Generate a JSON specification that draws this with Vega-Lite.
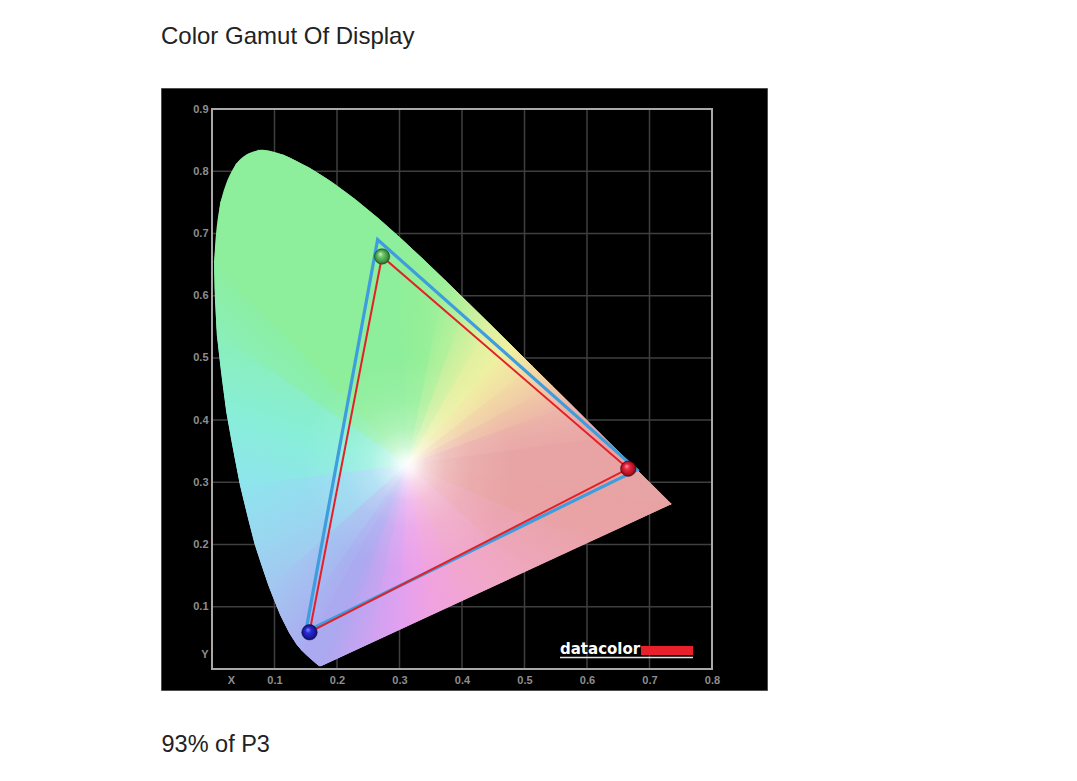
{
  "$schema": "https://vega.github.io/schema/vega-lite/v6.json",
  "width": 606,
  "height": 602,
  "autosize": {"type": "none"},
  "padding": {"left": 161, "top": 88, "right": 310, "bottom": 91},
  "background": "#ffffff",
  "title": {
    "text": "Color Gamut Of Display",
    "anchor": "start",
    "frame": "group",
    "offset": 20,
    "baseline": "alphabetic",
    "font": "Liberation Sans",
    "fontSize": 24,
    "fontWeight": "normal",
    "color": "#222222"
  },
  "config": {"view": {"fill": "#000000", "stroke": "#4d4d4d", "strokeWidth": 1}},
  "datasets": {
    "locus": [
      {"nm": 380, "x": 0.17411, "y": 0.00496},
      {"nm": 400, "x": 0.17334, "y": 0.0048},
      {"nm": 420, "x": 0.17141, "y": 0.0051},
      {"nm": 430, "x": 0.16888, "y": 0.0069},
      {"nm": 440, "x": 0.16441, "y": 0.01086},
      {"nm": 450, "x": 0.15664, "y": 0.01771},
      {"nm": 455, "x": 0.15099, "y": 0.02274},
      {"nm": 460, "x": 0.14396, "y": 0.0297},
      {"nm": 465, "x": 0.1355, "y": 0.03988},
      {"nm": 470, "x": 0.12412, "y": 0.0578},
      {"nm": 475, "x": 0.10959, "y": 0.08684},
      {"nm": 480, "x": 0.09129, "y": 0.1327},
      {"nm": 485, "x": 0.06871, "y": 0.20072},
      {"nm": 490, "x": 0.04539, "y": 0.29498},
      {"nm": 495, "x": 0.02346, "y": 0.4127},
      {"nm": 500, "x": 0.00817, "y": 0.53842},
      {"nm": 505, "x": 0.00386, "y": 0.65482},
      {"nm": 510, "x": 0.01387, "y": 0.75019},
      {"nm": 515, "x": 0.03885, "y": 0.81202},
      {"nm": 520, "x": 0.0743, "y": 0.8338},
      {"nm": 525, "x": 0.11416, "y": 0.82621},
      {"nm": 530, "x": 0.15472, "y": 0.80586},
      {"nm": 535, "x": 0.19288, "y": 0.78163},
      {"nm": 540, "x": 0.22962, "y": 0.75433},
      {"nm": 545, "x": 0.26578, "y": 0.72432},
      {"nm": 550, "x": 0.3016, "y": 0.69231},
      {"nm": 555, "x": 0.33736, "y": 0.65885},
      {"nm": 560, "x": 0.3731, "y": 0.62445},
      {"nm": 565, "x": 0.40874, "y": 0.58961},
      {"nm": 570, "x": 0.44406, "y": 0.55471},
      {"nm": 575, "x": 0.47877, "y": 0.5202},
      {"nm": 580, "x": 0.51249, "y": 0.48659},
      {"nm": 585, "x": 0.54479, "y": 0.45443},
      {"nm": 590, "x": 0.57515, "y": 0.42423},
      {"nm": 595, "x": 0.60293, "y": 0.3965},
      {"nm": 600, "x": 0.62704, "y": 0.37249},
      {"nm": 605, "x": 0.64823, "y": 0.35139},
      {"nm": 610, "x": 0.66576, "y": 0.33401},
      {"nm": 615, "x": 0.68008, "y": 0.31975},
      {"nm": 620, "x": 0.6915, "y": 0.30834},
      {"nm": 625, "x": 0.70061, "y": 0.2993},
      {"nm": 630, "x": 0.70792, "y": 0.29203},
      {"nm": 640, "x": 0.71903, "y": 0.28093},
      {"nm": 650, "x": 0.72599, "y": 0.27401},
      {"nm": 660, "x": 0.73007, "y": 0.26994},
      {"nm": 680, "x": 0.73439, "y": 0.26561},
      {"nm": 700, "x": 0.73469, "y": 0.26531}
    ],
    "fan": [
      {"w": 1, "k": 0, "x": 0.3127, "y": 0.329, "c": "#abaaf0"},
      {"w": 1, "k": 1, "x": 0.17411, "y": 0.00496, "c": "#abaaf0"},
      {"w": 1, "k": 2, "x": 0.17141, "y": 0.0051, "c": "#abaaf0"},
      {"w": 1, "k": 3, "x": 0.16441, "y": 0.01086, "c": "#abaaf0"},
      {"w": 1, "k": 4, "x": 0.15664, "y": 0.01771, "c": "#abaaf0"},
      {"w": 1, "k": 5, "x": 0.15099, "y": 0.02274, "c": "#abaaf0"},
      {"w": 1, "k": 6, "x": 0.14396, "y": 0.0297, "c": "#abaaf0"},
      {"w": 2, "k": 0, "x": 0.3127, "y": 0.329, "c": "#a9b0f0"},
      {"w": 2, "k": 1, "x": 0.14396, "y": 0.0297, "c": "#a9b0f0"},
      {"w": 2, "k": 2, "x": 0.1355, "y": 0.03988, "c": "#a9b0f0"},
      {"w": 2, "k": 3, "x": 0.12412, "y": 0.0578, "c": "#a9b0f0"},
      {"w": 3, "k": 0, "x": 0.3127, "y": 0.329, "c": "#a6bcf0"},
      {"w": 3, "k": 1, "x": 0.12412, "y": 0.0578, "c": "#a6bcf0"},
      {"w": 3, "k": 2, "x": 0.10959, "y": 0.08684, "c": "#a6bcf0"},
      {"w": 3, "k": 3, "x": 0.09129, "y": 0.1327, "c": "#a6bcf0"},
      {"w": 4, "k": 0, "x": 0.3127, "y": 0.329, "c": "#9ad6f0"},
      {"w": 4, "k": 1, "x": 0.09129, "y": 0.1327, "c": "#9ad6f0"},
      {"w": 4, "k": 2, "x": 0.06871, "y": 0.20072, "c": "#9ad6f0"},
      {"w": 4, "k": 3, "x": 0.04539, "y": 0.29498, "c": "#9ad6f0"},
      {"w": 5, "k": 0, "x": 0.3127, "y": 0.329, "c": "#88eed8"},
      {"w": 5, "k": 1, "x": 0.04539, "y": 0.29498, "c": "#88eed8"},
      {"w": 5, "k": 2, "x": 0.02346, "y": 0.4127, "c": "#88eed8"},
      {"w": 5, "k": 3, "x": 0.00817, "y": 0.53842, "c": "#88eed8"},
      {"w": 6, "k": 0, "x": 0.3127, "y": 0.329, "c": "#8befab"},
      {"w": 6, "k": 1, "x": 0.00817, "y": 0.53842, "c": "#8befab"},
      {"w": 6, "k": 2, "x": 0.00386, "y": 0.65482, "c": "#8befab"},
      {"w": 7, "k": 0, "x": 0.3127, "y": 0.329, "c": "#8dee9b"},
      {"w": 7, "k": 1, "x": 0.00386, "y": 0.65482, "c": "#8dee9b"},
      {"w": 7, "k": 2, "x": 0.01387, "y": 0.75019, "c": "#8dee9b"},
      {"w": 7, "k": 3, "x": 0.03885, "y": 0.81202, "c": "#8dee9b"},
      {"w": 7, "k": 4, "x": 0.0743, "y": 0.8338, "c": "#8dee9b"},
      {"w": 7, "k": 5, "x": 0.11416, "y": 0.82621, "c": "#8dee9b"},
      {"w": 7, "k": 6, "x": 0.15472, "y": 0.80586, "c": "#8dee9b"},
      {"w": 7, "k": 7, "x": 0.19288, "y": 0.78163, "c": "#8dee9b"},
      {"w": 7, "k": 8, "x": 0.22962, "y": 0.75433, "c": "#8dee9b"},
      {"w": 7, "k": 9, "x": 0.26578, "y": 0.72432, "c": "#8dee9b"},
      {"w": 7, "k": 10, "x": 0.3016, "y": 0.69231, "c": "#8dee9b"},
      {"w": 8, "k": 0, "x": 0.3127, "y": 0.329, "c": "#93ef98"},
      {"w": 8, "k": 1, "x": 0.3016, "y": 0.69231, "c": "#93ef98"},
      {"w": 8, "k": 2, "x": 0.33736, "y": 0.65885, "c": "#93ef98"},
      {"w": 8, "k": 3, "x": 0.3731, "y": 0.62445, "c": "#93ef98"},
      {"w": 20, "k": 0, "x": 0.3127, "y": 0.329, "c": "#aef09b"},
      {"w": 20, "k": 1, "x": 0.3731, "y": 0.62445, "c": "#aef09b"},
      {"w": 20, "k": 2, "x": 0.40874, "y": 0.58961, "c": "#aef09b"},
      {"w": 21, "k": 0, "x": 0.3127, "y": 0.329, "c": "#cdf19e"},
      {"w": 21, "k": 1, "x": 0.40874, "y": 0.58961, "c": "#cdf19e"},
      {"w": 21, "k": 2, "x": 0.44406, "y": 0.55471, "c": "#cdf19e"},
      {"w": 22, "k": 0, "x": 0.3127, "y": 0.329, "c": "#e7f1a1"},
      {"w": 22, "k": 1, "x": 0.44406, "y": 0.55471, "c": "#e7f1a1"},
      {"w": 22, "k": 2, "x": 0.47877, "y": 0.5202, "c": "#e7f1a1"},
      {"w": 23, "k": 0, "x": 0.3127, "y": 0.329, "c": "#f1e6a3"},
      {"w": 23, "k": 1, "x": 0.47877, "y": 0.5202, "c": "#f1e6a3"},
      {"w": 23, "k": 2, "x": 0.51249, "y": 0.48659, "c": "#f1e6a3"},
      {"w": 24, "k": 0, "x": 0.3127, "y": 0.329, "c": "#f1d2a5"},
      {"w": 24, "k": 1, "x": 0.51249, "y": 0.48659, "c": "#f1d2a5"},
      {"w": 24, "k": 2, "x": 0.54479, "y": 0.45443, "c": "#f1d2a5"},
      {"w": 25, "k": 0, "x": 0.3127, "y": 0.329, "c": "#eebfa7"},
      {"w": 25, "k": 1, "x": 0.54479, "y": 0.45443, "c": "#eebfa7"},
      {"w": 25, "k": 2, "x": 0.57515, "y": 0.42423, "c": "#eebfa7"},
      {"w": 12, "k": 0, "x": 0.3127, "y": 0.329, "c": "#eaaca8"},
      {"w": 12, "k": 1, "x": 0.57515, "y": 0.42423, "c": "#eaaca8"},
      {"w": 12, "k": 2, "x": 0.60293, "y": 0.3965, "c": "#eaaca8"},
      {"w": 12, "k": 3, "x": 0.62704, "y": 0.37249, "c": "#eaaca8"},
      {"w": 13, "k": 0, "x": 0.3127, "y": 0.329, "c": "#e8a4a4"},
      {"w": 13, "k": 1, "x": 0.62704, "y": 0.37249, "c": "#e8a4a4"},
      {"w": 13, "k": 2, "x": 0.64823, "y": 0.35139, "c": "#e8a4a4"},
      {"w": 13, "k": 3, "x": 0.66576, "y": 0.33401, "c": "#e8a4a4"},
      {"w": 13, "k": 4, "x": 0.68008, "y": 0.31975, "c": "#e8a4a4"},
      {"w": 13, "k": 5, "x": 0.6915, "y": 0.30834, "c": "#e8a4a4"},
      {"w": 13, "k": 6, "x": 0.70061, "y": 0.2993, "c": "#e8a4a4"},
      {"w": 13, "k": 7, "x": 0.70792, "y": 0.29203, "c": "#e8a4a4"},
      {"w": 13, "k": 8, "x": 0.71903, "y": 0.28093, "c": "#e8a4a4"},
      {"w": 13, "k": 9, "x": 0.72599, "y": 0.27401, "c": "#e8a4a4"},
      {"w": 13, "k": 10, "x": 0.73007, "y": 0.26994, "c": "#e8a4a4"},
      {"w": 13, "k": 11, "x": 0.73439, "y": 0.26561, "c": "#e8a4a4"},
      {"w": 13, "k": 12, "x": 0.73469, "y": 0.26531, "c": "#e8a4a4"},
      {"w": 14, "k": 0, "x": 0.3127, "y": 0.329, "c": "#e9a3a5"},
      {"w": 14, "k": 1, "x": 0.73469, "y": 0.26531, "c": "#e9a3a5"},
      {"w": 14, "k": 2, "x": 0.65, "y": 0.22598, "c": "#e9a3a5"},
      {"w": 14, "k": 3, "x": 0.6, "y": 0.20276, "c": "#e9a3a5"},
      {"w": 15, "k": 0, "x": 0.3127, "y": 0.329, "c": "#eca5b3"},
      {"w": 15, "k": 1, "x": 0.6, "y": 0.20276, "c": "#eca5b3"},
      {"w": 15, "k": 2, "x": 0.55, "y": 0.17953, "c": "#eca5b3"},
      {"w": 15, "k": 3, "x": 0.5, "y": 0.15631, "c": "#eca5b3"},
      {"w": 16, "k": 0, "x": 0.3127, "y": 0.329, "c": "#f0a8c8"},
      {"w": 16, "k": 1, "x": 0.5, "y": 0.15631, "c": "#f0a8c8"},
      {"w": 16, "k": 2, "x": 0.45, "y": 0.13309, "c": "#f0a8c8"},
      {"w": 16, "k": 3, "x": 0.4, "y": 0.10987, "c": "#f0a8c8"},
      {"w": 26, "k": 0, "x": 0.3127, "y": 0.329, "c": "#f0a4db"},
      {"w": 26, "k": 1, "x": 0.4, "y": 0.10987, "c": "#f0a4db"},
      {"w": 26, "k": 2, "x": 0.35, "y": 0.08665, "c": "#f0a4db"},
      {"w": 27, "k": 0, "x": 0.3127, "y": 0.329, "c": "#e9a1e9"},
      {"w": 27, "k": 1, "x": 0.35, "y": 0.08665, "c": "#e9a1e9"},
      {"w": 27, "k": 2, "x": 0.3, "y": 0.06343, "c": "#e9a1e9"},
      {"w": 28, "k": 0, "x": 0.3127, "y": 0.329, "c": "#d7a2f0"},
      {"w": 28, "k": 1, "x": 0.3, "y": 0.06343, "c": "#d7a2f0"},
      {"w": 28, "k": 2, "x": 0.25, "y": 0.04021, "c": "#d7a2f0"},
      {"w": 29, "k": 0, "x": 0.3127, "y": 0.329, "c": "#c1a5f0"},
      {"w": 29, "k": 1, "x": 0.25, "y": 0.04021, "c": "#c1a5f0"},
      {"w": 29, "k": 2, "x": 0.2, "y": 0.01698, "c": "#c1a5f0"},
      {"w": 19, "k": 0, "x": 0.3127, "y": 0.329, "c": "#b1a7f0"},
      {"w": 19, "k": 1, "x": 0.2, "y": 0.01698, "c": "#b1a7f0"},
      {"w": 19, "k": 2, "x": 0.17411, "y": 0.00496, "c": "#b1a7f0"}
    ],
    "white": [{"x": 0.3127, "y": 0.329}],
    "gridV": [{"v": 0.1}, {"v": 0.2}, {"v": 0.3}, {"v": 0.4}, {"v": 0.5}, {"v": 0.6}, {"v": 0.7}],
    "gridH": [{"v": 0.1}, {"v": 0.2}, {"v": 0.3}, {"v": 0.4}, {"v": 0.5}, {"v": 0.6}, {"v": 0.7}, {"v": 0.8}],
    "gamut": [
      {"g": "P3", "k": 0, "x": 0.68, "y": 0.32},
      {"g": "P3", "k": 1, "x": 0.265, "y": 0.69},
      {"g": "P3", "k": 2, "x": 0.15, "y": 0.06},
      {"g": "Display", "k": 0, "x": 0.666, "y": 0.322},
      {"g": "Display", "k": 1, "x": 0.272, "y": 0.663},
      {"g": "Display", "k": 2, "x": 0.156, "y": 0.059}
    ]
  },
  "layer": [
    {
      "data": {"name": "gridV"},
      "mark": {"type": "rule", "color": "#3f3f3f", "strokeWidth": 1.5},
      "encoding": {
        "x": {"field": "v", "type": "quantitative"},
        "y": {"datum": 0, "type": "quantitative"},
        "y2": {"datum": 0.9}
      }
    },
    {
      "data": {"name": "gridH"},
      "mark": {"type": "rule", "color": "#3f3f3f", "strokeWidth": 1.5},
      "encoding": {
        "y": {"field": "v", "type": "quantitative"},
        "x": {"datum": 0, "type": "quantitative"},
        "x2": {"datum": 0.8}
      }
    },
    {
      "data": {"values": [{}]},
      "mark": {"type": "rect", "fillOpacity": 0, "stroke": "#a9a9a9", "strokeWidth": 2},
      "encoding": {
        "x": {"datum": 0, "type": "quantitative"},
        "x2": {"datum": 0.8},
        "y": {"datum": 0, "type": "quantitative"},
        "y2": {"datum": 0.9}
      }
    },
    {
      "data": {"name": "locus"},
      "mark": {
        "type": "line",
        "interpolate": "cardinal",
        "strokeWidth": 0,
        "fill": {
          "gradient": "linear", "x1": 0, "y1": 0, "x2": 0, "y2": 1,
          "stops": [
            {"offset": 0, "color": "#8cee96"},
            {"offset": 0.28, "color": "#8def9c"},
            {"offset": 0.4, "color": "#8cefb2"},
            {"offset": 0.5, "color": "#88f0cc"},
            {"offset": 0.6, "color": "#86f0e6"},
            {"offset": 0.67, "color": "#92e2f0"},
            {"offset": 0.74, "color": "#9ed0f0"},
            {"offset": 0.825, "color": "#a8bcf0"},
            {"offset": 0.91, "color": "#abaef0"},
            {"offset": 1, "color": "#aea8f0"}
          ]
        }
      },
      "encoding": {
        "order": {"field": "nm", "type": "quantitative"},
        "x": {
          "field": "x", "type": "quantitative",
          "scale": {"domain": [-0.0816, 0.888], "nice": false, "zero": false},
          "axis": {
            "orient": "bottom", "offset": -21,
            "values": [0.0304, 0.1, 0.2, 0.3, 0.4, 0.5, 0.6, 0.7, 0.8],
            "labelExpr": "datum.value < 0.05 ? 'X' : format(datum.value, '.1f')",
            "domain": false, "ticks": false, "grid": false,
            "labelColor": "#8e8e8e", "labelFont": "Liberation Sans", "labelFontSize": 11,
            "labelFontWeight": "bold", "labelPadding": 5,
            "labelOverlap": false, "labelBound": false, "labelFlush": false,
            "title": "93% of P3", "titleFont": "Liberation Sans", "titleFontSize": 23.5,
            "titleFontWeight": "normal", "titleColor": "#222222",
            "titleX": 0, "titleY": 82, "titleAlign": "left", "titleBaseline": "alphabetic", "titleAnchor": null
          }
        },
        "y": {
          "field": "y", "type": "quantitative",
          "scale": {"domain": [-0.0338, 0.9338], "nice": false, "zero": false},
          "axis": {
            "orient": "left", "offset": -51,
            "values": [0.0225, 0.1, 0.2, 0.3, 0.4, 0.5, 0.6, 0.7, 0.8, 0.9],
            "labelExpr": "datum.value < 0.05 ? 'Y' : format(datum.value, '.1f')",
            "domain": false, "ticks": false, "grid": false,
            "labelColor": "#8e8e8e", "labelFont": "Liberation Sans", "labelFontSize": 11,
            "labelFontWeight": "bold", "labelPadding": 4,
            "labelOverlap": false, "labelBound": false, "labelFlush": false,
            "title": null
          }
        }
      }
    },
    {
      "data": {"name": "fan"},
      "mark": {"type": "line", "interpolate": "linear-closed", "strokeWidth": 0.8, "strokeJoin": "round"},
      "encoding": {
        "detail": {"field": "w", "type": "nominal"},
        "order": {"field": "k", "type": "quantitative"},
        "fill": {"field": "c", "type": "nominal", "scale": null},
        "stroke": {"field": "c", "type": "nominal", "scale": null},
        "x": {"field": "x", "type": "quantitative"},
        "y": {"field": "y", "type": "quantitative"}
      }
    },
    {
      "data": {"name": "fan"}, "transform": [{"filter": "datum.w === 2"}],
      "mark": {"type": "line", "interpolate": "linear-closed", "strokeWidth": 0,
        "fill": {"gradient": "linear", "x1": 0.5529, "y1": 0.54963, "x2": 0.45304, "y2": 0.45036,
          "stops": [{"offset": 0, "color": "#aaacf0"}, {"offset": 0.396, "color": "#a9b0f0"}, {"offset": 1, "color": "#a8b4f0"}]}},
      "encoding": {"order": {"field": "k", "type": "quantitative"}, "x": {"field": "x", "type": "quantitative"}, "y": {"field": "y", "type": "quantitative"}}
    },
    {
      "data": {"name": "fan"}, "transform": [{"filter": "datum.w === 3"}],
      "mark": {"type": "line", "interpolate": "linear-closed", "strokeWidth": 0,
        "fill": {"gradient": "linear", "x1": 0.56757, "y1": 0.60967, "x2": 0.36099, "y2": 0.38777,
          "stops": [{"offset": 0, "color": "#a8b4f0"}, {"offset": 0.406, "color": "#a6bcf0"}, {"offset": 1, "color": "#a2c8f0"}]}},
      "encoding": {"order": {"field": "k", "type": "quantitative"}, "x": {"field": "x", "type": "quantitative"}, "y": {"field": "y", "type": "quantitative"}}
    },
    {
      "data": {"name": "fan"}, "transform": [{"filter": "datum.w === 4"}],
      "mark": {"type": "line", "interpolate": "linear-closed", "strokeWidth": 0,
        "fill": {"gradient": "linear", "x1": 0.50464, "y1": 0.78634, "x2": 0.07878, "y2": 0.12275,
          "stops": [{"offset": 0, "color": "#a2c8f0"}, {"offset": 0.428, "color": "#9ad6f0"}, {"offset": 1, "color": "#8fe4ee"}]}},
      "encoding": {"order": {"field": "k", "type": "quantitative"}, "x": {"field": "x", "type": "quantitative"}, "y": {"field": "y", "type": "quantitative"}}
    },
    {
      "data": {"name": "fan"}, "transform": [{"filter": "datum.w === 5"}],
      "mark": {"type": "line", "interpolate": "linear-closed", "strokeWidth": 0,
        "fill": {"gradient": "linear", "x1": -0.31877, "y1": 0.83079, "x2": 0, "y2": 0,
          "stops": [{"offset": 0, "color": "#8fe4ee"}, {"offset": 0.478, "color": "#88eed8"}, {"offset": 1, "color": "#8aefb8"}]}},
      "encoding": {"order": {"field": "k", "type": "quantitative"}, "x": {"field": "x", "type": "quantitative"}, "y": {"field": "y", "type": "quantitative"}}
    },
    {
      "data": {"name": "fan"}, "transform": [{"filter": "datum.w === 6"}],
      "mark": {"type": "line", "interpolate": "linear-closed", "strokeWidth": 0,
        "fill": {"gradient": "linear", "x1": -0.16979, "y1": 0.20527, "x2": 0, "y2": 0,
          "stops": [{"offset": 0, "color": "#8aefb8"}, {"offset": 1, "color": "#8cee9e"}]}},
      "encoding": {"order": {"field": "k", "type": "quantitative"}, "x": {"field": "x", "type": "quantitative"}, "y": {"field": "y", "type": "quantitative"}}
    },
    {
      "data": {"name": "fan"}, "transform": [{"filter": "datum.w === 8"}],
      "mark": {"type": "line", "interpolate": "linear-closed", "strokeWidth": 0,
        "fill": {"gradient": "linear", "x1": 0, "y1": 0, "x2": 0.93572, "y2": 0.35583,
          "stops": [{"offset": 0, "color": "#8eee98"}, {"offset": 0.5, "color": "#93ef98"}, {"offset": 1, "color": "#9ff09a"}]}},
      "encoding": {"order": {"field": "k", "type": "quantitative"}, "x": {"field": "x", "type": "quantitative"}, "y": {"field": "y", "type": "quantitative"}}
    },
    {
      "data": {"name": "fan"}, "transform": [{"filter": "datum.w === 20"}],
      "mark": {"type": "line", "interpolate": "linear-closed", "strokeWidth": 0,
        "fill": {"gradient": "linear", "x1": 0.35958, "y1": 0.31121, "x2": 0.6301, "y2": 0.54534,
          "stops": [{"offset": 0, "color": "#9ff09a"}, {"offset": 1, "color": "#bcf09c"}]}},
      "encoding": {"order": {"field": "k", "type": "quantitative"}, "x": {"field": "x", "type": "quantitative"}, "y": {"field": "y", "type": "quantitative"}}
    },
    {
      "data": {"name": "fan"}, "transform": [{"filter": "datum.w === 21"}],
      "mark": {"type": "line", "interpolate": "linear-closed", "strokeWidth": 0,
        "fill": {"gradient": "linear", "x1": 0.39295, "y1": 0.36453, "x2": 0.60424, "y2": 0.56054,
          "stops": [{"offset": 0, "color": "#bcf09c"}, {"offset": 1, "color": "#def1a0"}]}},
      "encoding": {"order": {"field": "k", "type": "quantitative"}, "x": {"field": "x", "type": "quantitative"}, "y": {"field": "y", "type": "quantitative"}}
    },
    {
      "data": {"name": "fan"}, "transform": [{"filter": "datum.w === 22"}],
      "mark": {"type": "line", "interpolate": "linear-closed", "strokeWidth": 0,
        "fill": {"gradient": "linear", "x1": 0.40768, "y1": 0.39531, "x2": 0.59182, "y2": 0.57386,
          "stops": [{"offset": 0, "color": "#def1a0"}, {"offset": 1, "color": "#f0f0a2"}]}},
      "encoding": {"order": {"field": "k", "type": "quantitative"}, "x": {"field": "x", "type": "quantitative"}, "y": {"field": "y", "type": "quantitative"}}
    },
    {
      "data": {"name": "fan"}, "transform": [{"filter": "datum.w === 23"}],
      "mark": {"type": "line", "interpolate": "linear-closed", "strokeWidth": 0,
        "fill": {"gradient": "linear", "x1": 0.41402, "y1": 0.41561, "x2": 0.58598, "y2": 0.58823,
          "stops": [{"offset": 0, "color": "#f0f0a2"}, {"offset": 1, "color": "#f2dca4"}]}},
      "encoding": {"order": {"field": "k", "type": "quantitative"}, "x": {"field": "x", "type": "quantitative"}, "y": {"field": "y", "type": "quantitative"}}
    },
    {
      "data": {"name": "fan"}, "transform": [{"filter": "datum.w === 24"}],
      "mark": {"type": "line", "interpolate": "linear-closed", "strokeWidth": 0,
        "fill": {"gradient": "linear", "x1": 0.41515, "y1": 0.43016, "x2": 0.58424, "y2": 0.60536,
          "stops": [{"offset": 0, "color": "#f2dca4"}, {"offset": 1, "color": "#f0c8a6"}]}},
      "encoding": {"order": {"field": "k", "type": "quantitative"}, "x": {"field": "x", "type": "quantitative"}, "y": {"field": "y", "type": "quantitative"}}
    },
    {
      "data": {"name": "fan"}, "transform": [{"filter": "datum.w === 25"}],
      "mark": {"type": "line", "interpolate": "linear-closed", "strokeWidth": 0,
        "fill": {"gradient": "linear", "x1": 0.41183, "y1": 0.44111, "x2": 0.5858, "y2": 0.62745,
          "stops": [{"offset": 0, "color": "#f0c8a6"}, {"offset": 1, "color": "#edb6a8"}]}},
      "encoding": {"order": {"field": "k", "type": "quantitative"}, "x": {"field": "x", "type": "quantitative"}, "y": {"field": "y", "type": "quantitative"}}
    },
    {
      "data": {"name": "fan"}, "transform": [{"filter": "datum.w === 12"}],
      "mark": {"type": "line", "interpolate": "linear-closed", "strokeWidth": 0,
        "fill": {"gradient": "linear", "x1": 0.32277, "y1": 0.40658, "x2": 0.65117, "y2": 0.82025,
          "stops": [{"offset": 0, "color": "#edb6a8"}, {"offset": 0.536, "color": "#eaaca8"}, {"offset": 1, "color": "#e9a6a6"}]}},
      "encoding": {"order": {"field": "k", "type": "quantitative"}, "x": {"field": "x", "type": "quantitative"}, "y": {"field": "y", "type": "quantitative"}}
    },
    {
      "data": {"name": "fan"}, "transform": [{"filter": "datum.w === 14"}],
      "mark": {"type": "line", "interpolate": "linear-closed", "strokeWidth": 0,
        "fill": {"gradient": "linear", "x1": 0.19411, "y1": -0.21685, "x2": -0.1941, "y2": 0.21685,
          "stops": [{"offset": 0, "color": "#e8a2a2"}, {"offset": 0.629, "color": "#e9a3a5"}, {"offset": 1, "color": "#eaa4aa"}]}},
      "encoding": {"order": {"field": "k", "type": "quantitative"}, "x": {"field": "x", "type": "quantitative"}, "y": {"field": "y", "type": "quantitative"}}
    },
    {
      "data": {"name": "fan"}, "transform": [{"filter": "datum.w === 15"}],
      "mark": {"type": "line", "interpolate": "linear-closed", "strokeWidth": 0,
        "fill": {"gradient": "linear", "x1": 0.15826, "y1": -0.15103, "x2": -0.15825, "y2": 0.15102,
          "stops": [{"offset": 0, "color": "#eaa4aa"}, {"offset": 0.5, "color": "#eca5b3"}, {"offset": 1, "color": "#eea7bd"}]}},
      "encoding": {"order": {"field": "k", "type": "quantitative"}, "x": {"field": "x", "type": "quantitative"}, "y": {"field": "y", "type": "quantitative"}}
    },
    {
      "data": {"name": "fan"}, "transform": [{"filter": "datum.w === 16"}],
      "mark": {"type": "line", "interpolate": "linear-closed", "strokeWidth": 0,
        "fill": {"gradient": "linear", "x1": 0.21159, "y1": -0.17349, "x2": -0.21158, "y2": 0.17348,
          "stops": [{"offset": 0, "color": "#eea7bd"}, {"offset": 0.5, "color": "#f0a8c8"}, {"offset": 1, "color": "#f0a5d4"}]}},
      "encoding": {"order": {"field": "k", "type": "quantitative"}, "x": {"field": "x", "type": "quantitative"}, "y": {"field": "y", "type": "quantitative"}}
    },
    {
      "data": {"name": "fan"}, "transform": [{"filter": "datum.w === 26"}],
      "mark": {"type": "line", "interpolate": "linear-closed", "strokeWidth": 0,
        "fill": {"gradient": "linear", "x1": 0.20634, "y1": -0.15466, "x2": -0.20634, "y2": 0.15465,
          "stops": [{"offset": 0, "color": "#f0a5d4"}, {"offset": 1, "color": "#f0a2e2"}]}},
      "encoding": {"order": {"field": "k", "type": "quantitative"}, "x": {"field": "x", "type": "quantitative"}, "y": {"field": "y", "type": "quantitative"}}
    },
    {
      "data": {"name": "fan"}, "transform": [{"filter": "datum.w === 27"}],
      "mark": {"type": "line", "interpolate": "linear-closed", "strokeWidth": 0,
        "fill": {"gradient": "linear", "x1": 0.71775, "y1": -0.18464, "x2": -0.24128, "y2": 0.06207,
          "stops": [{"offset": 0, "color": "#f0a2e2"}, {"offset": 1, "color": "#e2a0f0"}]}},
      "encoding": {"order": {"field": "k", "type": "quantitative"}, "x": {"field": "x", "type": "quantitative"}, "y": {"field": "y", "type": "quantitative"}}
    },
    {
      "data": {"name": "fan"}, "transform": [{"filter": "datum.w === 28"}],
      "mark": {"type": "line", "interpolate": "linear-closed", "strokeWidth": 0,
        "fill": {"gradient": "linear", "x1": 0.98642, "y1": 0.61796, "x2": 0.4499, "y2": 0.28185,
          "stops": [{"offset": 0, "color": "#e2a0f0"}, {"offset": 1, "color": "#cca3f0"}]}},
      "encoding": {"order": {"field": "k", "type": "quantitative"}, "x": {"field": "x", "type": "quantitative"}, "y": {"field": "y", "type": "quantitative"}}
    },
    {
      "data": {"name": "fan"}, "transform": [{"filter": "datum.w === 29"}],
      "mark": {"type": "line", "interpolate": "linear-closed", "strokeWidth": 0,
        "fill": {"gradient": "linear", "x1": 0.72083, "y1": 0.58263, "x2": 0.48888, "y2": 0.39515,
          "stops": [{"offset": 0, "color": "#cca3f0"}, {"offset": 1, "color": "#b6a6f0"}]}},
      "encoding": {"order": {"field": "k", "type": "quantitative"}, "x": {"field": "x", "type": "quantitative"}, "y": {"field": "y", "type": "quantitative"}}
    },
    {
      "data": {"name": "fan"}, "transform": [{"filter": "datum.w === 19"}],
      "mark": {"type": "line", "interpolate": "linear-closed", "strokeWidth": 0,
        "fill": {"gradient": "linear", "x1": 0.58076, "y1": 0.53646, "x2": 0.49844, "y2": 0.46042,
          "stops": [{"offset": 0, "color": "#b6a6f0"}, {"offset": 1, "color": "#aca8f0"}]}},
      "encoding": {"order": {"field": "k", "type": "quantitative"}, "x": {"field": "x", "type": "quantitative"}, "y": {"field": "y", "type": "quantitative"}}
    },
    {
      "data": {"name": "white"},
      "mark": {
        "type": "point", "shape": "circle", "filled": true, "opacity": 1, "size": 45000, "strokeWidth": 0,
        "fill": {
          "gradient": "radial", "x1": 0.5, "y1": 0.5, "r1": 0, "x2": 0.5, "y2": 0.5, "r2": 0.5,
          "stops": [
            {"offset": 0, "color": "rgba(255,255,255,0.97)"},
            {"offset": 0.07, "color": "rgba(255,255,255,0.86)"},
            {"offset": 0.18, "color": "rgba(255,255,255,0.56)"},
            {"offset": 0.35, "color": "rgba(255,255,255,0.28)"},
            {"offset": 0.6, "color": "rgba(255,255,255,0.1)"},
            {"offset": 1, "color": "rgba(255,255,255,0)"}
          ]
        }
      },
      "encoding": {
        "x": {"field": "x", "type": "quantitative"},
        "y": {"field": "y", "type": "quantitative"}
      }
    },
    {
      "data": {"name": "gamut"},
      "transform": [{"filter": "datum.g === 'P3'"}],
      "mark": {"type": "line", "interpolate": "linear-closed", "color": "#3d9ddf", "strokeWidth": 3.2, "strokeJoin": "miter"},
      "encoding": {
        "order": {"field": "k", "type": "quantitative"},
        "x": {"field": "x", "type": "quantitative"},
        "y": {"field": "y", "type": "quantitative"}
      }
    },
    {
      "data": {"name": "gamut"},
      "transform": [{"filter": "datum.g === 'Display'"}],
      "mark": {"type": "line", "interpolate": "linear-closed", "color": "#e32028", "strokeWidth": 2, "strokeJoin": "miter"},
      "encoding": {
        "order": {"field": "k", "type": "quantitative"},
        "x": {"field": "x", "type": "quantitative"},
        "y": {"field": "y", "type": "quantitative"}
      }
    },
    {
      "data": {"name": "gamut"},
      "transform": [{"filter": "datum.g === 'Display' && datum.k === 0"}],
      "mark": {
        "type": "point", "shape": "circle", "filled": true, "opacity": 1, "size": 240,
        "stroke": "#3a0008", "strokeWidth": 0.8, "strokeOpacity": 0.6,
        "fill": {
          "gradient": "radial", "x1": 0.38, "y1": 0.32, "r1": 0, "x2": 0.5, "y2": 0.5, "r2": 0.5,
          "stops": [
            {"offset": 0, "color": "#ff9aa6"},
            {"offset": 0.35, "color": "#e8283e"},
            {"offset": 0.8, "color": "#b01024"},
            {"offset": 1, "color": "#6e0612"}
          ]
        }
      },
      "encoding": {
        "x": {"field": "x", "type": "quantitative"},
        "y": {"field": "y", "type": "quantitative"}
      }
    },
    {
      "data": {"name": "gamut"},
      "transform": [{"filter": "datum.g === 'Display' && datum.k === 1"}],
      "mark": {
        "type": "point", "shape": "circle", "filled": true, "opacity": 1, "size": 240,
        "stroke": "#1a4a1e", "strokeWidth": 0.8, "strokeOpacity": 0.6,
        "fill": {
          "gradient": "radial", "x1": 0.38, "y1": 0.32, "r1": 0, "x2": 0.5, "y2": 0.5, "r2": 0.5,
          "stops": [
            {"offset": 0, "color": "#d6f5c8"},
            {"offset": 0.35, "color": "#6cc46a"},
            {"offset": 0.8, "color": "#3c9440"},
            {"offset": 1, "color": "#1f5a24"}
          ]
        }
      },
      "encoding": {
        "x": {"field": "x", "type": "quantitative"},
        "y": {"field": "y", "type": "quantitative"}
      }
    },
    {
      "data": {"name": "gamut"},
      "transform": [{"filter": "datum.g === 'Display' && datum.k === 2"}],
      "mark": {
        "type": "point", "shape": "circle", "filled": true, "opacity": 1, "size": 240,
        "stroke": "#0a0a40", "strokeWidth": 0.8, "strokeOpacity": 0.6,
        "fill": {
          "gradient": "radial", "x1": 0.38, "y1": 0.32, "r1": 0, "x2": 0.5, "y2": 0.5, "r2": 0.5,
          "stops": [
            {"offset": 0, "color": "#9a9aff"},
            {"offset": 0.35, "color": "#2a2ad8"},
            {"offset": 0.8, "color": "#1818a0"},
            {"offset": 1, "color": "#0a0a60"}
          ]
        }
      },
      "encoding": {
        "x": {"field": "x", "type": "quantitative"},
        "y": {"field": "y", "type": "quantitative"}
      }
    },
    {
      "data": {"values": [{}]},
      "mark": {"type": "rule", "color": "#e6e6e6", "strokeWidth": 1.5},
      "encoding": {
        "x": {"datum": 0.5568, "type": "quantitative"},
        "x2": {"datum": 0.7696},
        "y": {"datum": 0.0185, "type": "quantitative"}
      }
    },
    {
      "data": {"values": [{}]},
      "mark": {"type": "rect", "color": "#e8202c"},
      "encoding": {
        "x": {"datum": 0.6864, "type": "quantitative"},
        "x2": {"datum": 0.7696},
        "y": {"datum": 0.0225, "type": "quantitative"},
        "y2": {"datum": 0.037}
      }
    },
    {
      "data": {"values": [{"label": "datacolor"}]},
      "mark": {"type": "text", "font": "DejaVu Sans", "fontWeight": "bold", "fontSize": 15, "color": "#ffffff", "align": "left", "baseline": "alphabetic"},
      "encoding": {
        "text": {"field": "label"},
        "x": {"datum": 0.5568, "type": "quantitative"},
        "y": {"datum": 0.0241, "type": "quantitative"}
      }
    }
  ]
}
